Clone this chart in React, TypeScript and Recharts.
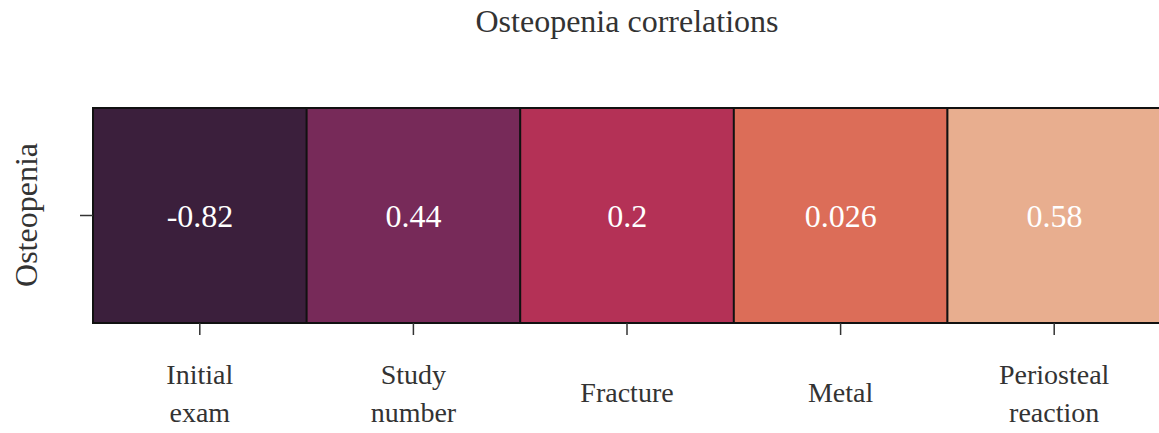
import { BarChart, Bar, XAxis, YAxis, Cell, LabelList } from 'recharts';

const categories = ['Initial exam', 'Study number', 'Fracture', 'Metal', 'Periosteal reaction'];
const correlations = [-0.82, 0.44, 0.2, 0.026, 0.58];
const rowLabel = 'Osteopenia';
const title = 'Osteopenia correlations';

// rocket-like colours, one per cell
const cellColors = ['#3b1f3c', '#772a59', '#b43156', '#dc6d58', '#e8ae8f'];

const FONT = '"Liberation Serif", "Times New Roman", serif';
const TEXT = '#333';

const data = categories.map((name, i) => ({
  name,
  value: correlations[i],
  label: String(correlations[i]),
  cell: 1,
}));

const XTick = ({ x, y, payload }: any) => {
  const lines = String(payload.value).split(' ');
  const base = lines.length === 1 ? [67] : [49, 87];
  return (
    <text x={x} y={y} textAnchor="middle" fill={TEXT} fontFamily={FONT} fontSize={28}>
      {lines.map((ln, i) => (
        <tspan key={i} x={x} y={y + base[i]}>
          {ln}
        </tspan>
      ))}
    </text>
  );
};

const YLabel = () => (
  <text
    x={37}
    y={215}
    transform="rotate(-90 37 215)"
    textAnchor="middle"
    fill={TEXT}
    fontFamily={FONT}
    fontSize={32}
  >
    {rowLabel}
  </text>
);

const App = () => (
  <div style={{ position: 'absolute', left: 0, top: 0, width: 1159, height: 433, background: '#fff' }}>
    <div
      style={{
        position: 'absolute',
        left: 0,
        width: 1254,
        top: 3,
        textAlign: 'center',
        fontFamily: FONT,
        fontSize: 32,
        color: TEXT,
        lineHeight: '36px',
      }}
    >
      {title}
    </div>
    <BarChart
      width={1159}
      height={433}
      data={data}
      margin={{ top: 108, right: -2, bottom: 0, left: 80 }}
      barCategoryGap={0}
      style={{ position: 'absolute', left: 0, top: 0 }}
    >
      <XAxis
        dataKey="name"
        axisLine={false}
        tickLine={{ stroke: TEXT, strokeWidth: 1.5 }}
        tickSize={12}
        tickMargin={0}
        interval={0}
        tick={<XTick />}
        height={110}
      />
      <YAxis
        type="number"
        domain={[0, 1]}
        ticks={[0.5]}
        tickFormatter={() => ''}
        axisLine={false}
        tickLine={{ stroke: TEXT, strokeWidth: 1.5 }}
        tickSize={13}
        width={13}
        label={{ content: () => <YLabel /> }}
      />
      <Bar dataKey="cell" isAnimationActive={false} stroke="#111" strokeWidth={2}>
        {data.map((d, i) => (
          <Cell key={d.name} fill={cellColors[i]} />
        ))}
        <LabelList
          dataKey="label"
          position="center"
          fill="#fff"
          fontFamily={FONT}
          fontSize={32}
        />
      </Bar>
    </BarChart>
  </div>
);

export default App;
